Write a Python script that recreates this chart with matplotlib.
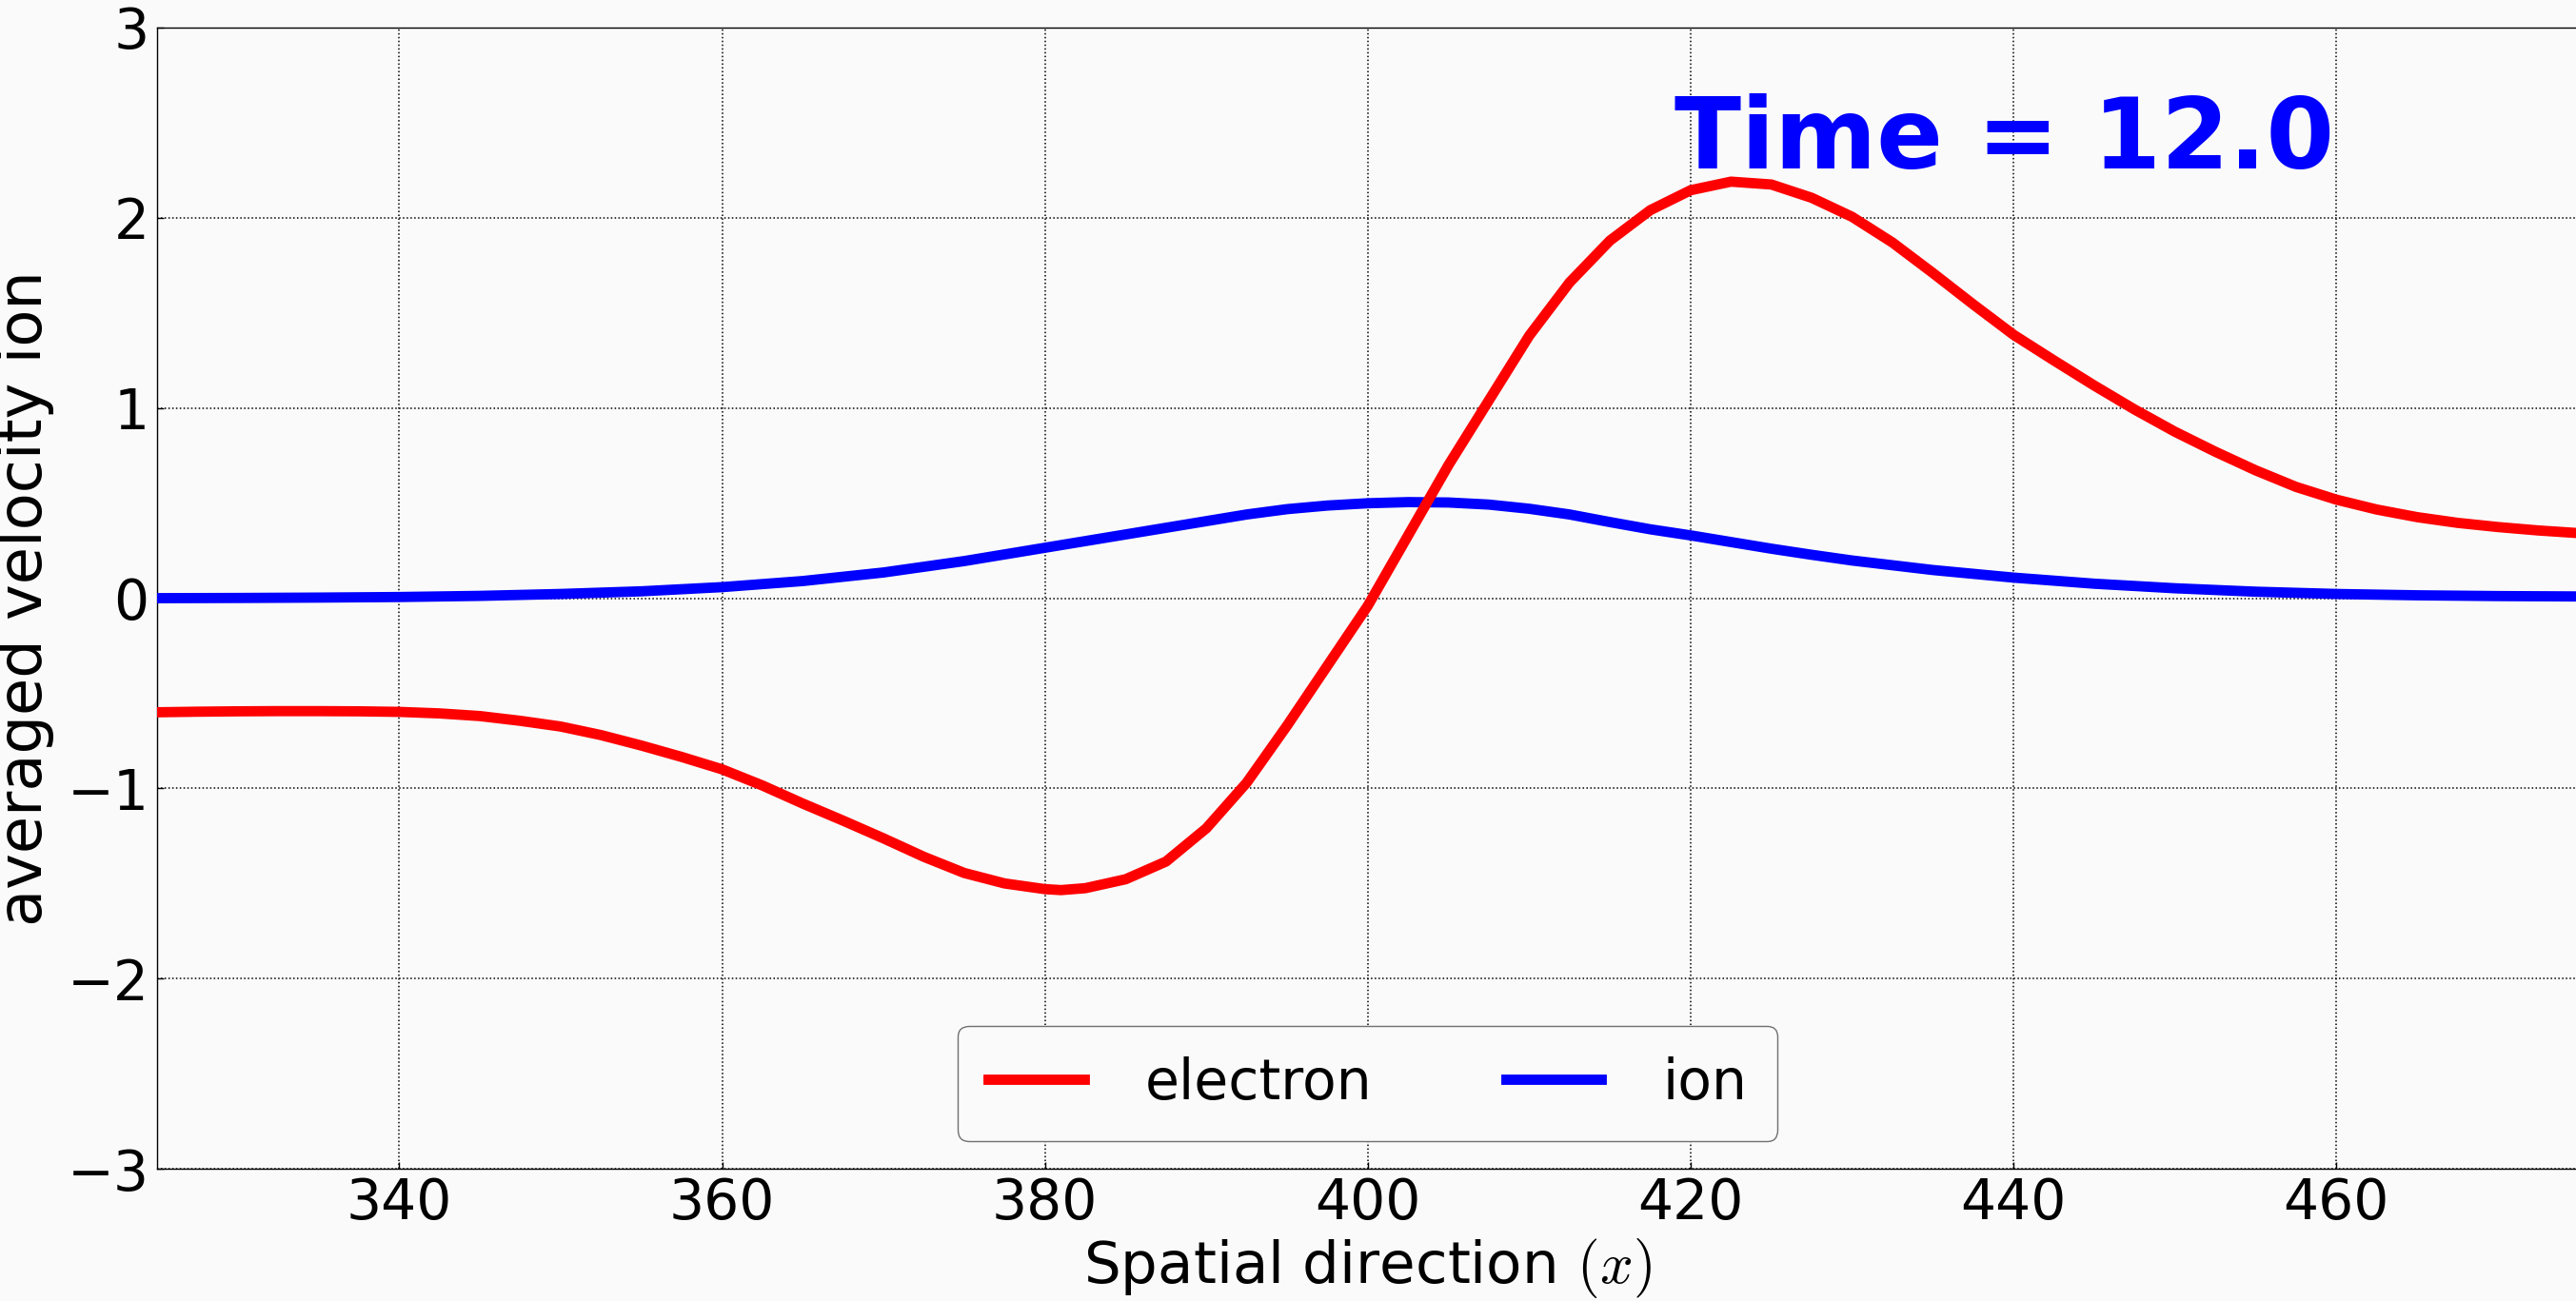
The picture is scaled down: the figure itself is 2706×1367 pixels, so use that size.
import matplotlib
matplotlib.use("Agg")
import matplotlib.pyplot as plt

# values
electron_x = [325, 327.5, 330, 332.5, 335, 337.5, 340, 342.5, 345, 347.5, 350,
              352.5, 355, 357.5, 360, 362.5, 365, 367.5, 370, 372.5, 375, 377.5,
              380, 381, 382.5, 385, 387.5, 390, 392.5, 395, 397.5, 400, 402.5,
              405, 407.5, 410, 412.5, 415, 417.5, 420, 422.5, 425, 427.5, 430,
              432.5, 435, 437.5, 440, 442.5, 445, 447.5, 450, 452.5, 455, 457.5,
              460, 462.5, 465, 467.5, 470, 472.5, 475]
electron_v = [-0.600, -0.597, -0.595, -0.594, -0.594, -0.595, -0.598, -0.606,
              -0.620, -0.645, -0.675, -0.720, -0.775, -0.835, -0.900, -0.985,
              -1.080, -1.170, -1.263, -1.360, -1.445, -1.500, -1.530, -1.535,
              -1.525, -1.478, -1.385, -1.210, -0.970, -0.670, -0.355, -0.040,
              0.330, 0.700, 1.040, 1.380, 1.660, 1.880, 2.040, 2.145, 2.190,
              2.175, 2.105, 2.005, 1.870, 1.710, 1.545, 1.385, 1.250, 1.118,
              0.992, 0.875, 0.770, 0.672, 0.585, 0.518, 0.466, 0.426, 0.396,
              0.374, 0.356, 0.342]

ion_x = [325, 330, 335, 340, 345, 350, 355, 360, 365, 370, 375, 380, 385, 390,
         392.5, 395, 397.5, 400, 402.5, 405, 407.5, 410, 412.5, 415, 417.5, 420,
         422.5, 425, 427.5, 430, 435, 440, 445, 450, 455, 460, 465, 470, 475]
ion_v = [0.000, 0.001, 0.003, 0.006, 0.012, 0.022, 0.036, 0.058, 0.090, 0.135,
         0.195, 0.265, 0.335, 0.405, 0.440, 0.468, 0.487, 0.499, 0.505, 0.503,
         0.492, 0.470, 0.440, 0.400, 0.362, 0.330, 0.295, 0.260, 0.228, 0.198,
         0.148, 0.108, 0.076, 0.052, 0.034, 0.022, 0.015, 0.011, 0.009]

time_label = "Time = 12.0"
xticks = [340, 360, 380, 400, 420, 440, 460]
yticks = [-3, -2, -1, 0, 1, 2, 3]

bg = "#fafafa"
plt.rcParams["mathtext.fontset"] = "cm"
plt.rcParams["font.family"] = ["DejaVu Sans"]

fig = plt.figure(figsize=(27.06, 13.67), dpi=100, facecolor=bg)
ax = fig.add_axes([165 / 2706, 139 / 1367, 0.9400, 1199 / 1367])
ax.set_facecolor(bg)

line_i, = ax.plot(ion_x, ion_v, color="#0000ff", lw=7.8, label="ion", zorder=3)
line_e, = ax.plot(electron_x, electron_v, color="#ff0000", lw=7.8,
                  label="electron", zorder=4)

ax.set_xlim(325, 475)
ax.set_ylim(-3, 3)
ax.set_xticks(xticks)
ax.set_yticks(yticks)
ax.grid(True, linestyle=(0, (1, 1.6)), color="k", lw=1.1)
ax.tick_params(direction="in", length=5, width=1, labelsize=42, pad=6)
for s in ax.spines.values():
    s.set_color("k")
    s.set_linewidth(1.0)

ax.set_xlabel("Spatial direction $(x)$", fontsize=44, labelpad=4)
ax.set_ylabel("averaged velocity ion", fontsize=46, labelpad=10)

ax.text(419.0, 2.26, time_label, color="#0000ff", fontsize=74,
        fontweight="bold", ha="left", va="baseline", zorder=5)

leg = ax.legend([line_e, line_i], ["electron", "ion"], loc="lower center",
                ncol=2, fontsize=42, fancybox=True, framealpha=1.0,
                borderpad=0.55, handlelength=1.72, handletextpad=1.1,
                columnspacing=2.4, borderaxespad=0.5)
leg.get_frame().set_facecolor(bg)
leg.get_frame().set_edgecolor("#707070")
leg.get_frame().set_linewidth(1.0)

fig.savefig("out.png", dpi=100, facecolor=bg)
